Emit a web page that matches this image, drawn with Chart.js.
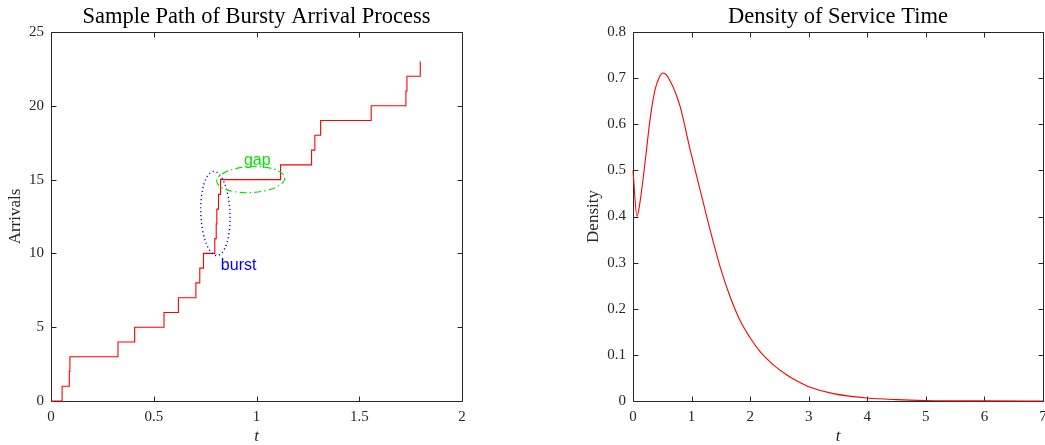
<!DOCTYPE html>
<html>
<head>
<meta charset="utf-8">
<title>Bursty Arrival Process</title>
<script src="https://cdn.jsdelivr.net/npm/chart.js@4.4.1/dist/chart.umd.min.js"></script>
<style>
body { margin: 0; background: #fff; }
canvas { position: absolute; top: 0; }
#arrivalChart { left: 0; }
#densityChart { left: 570px; }
</style>
</head>
<body>
<canvas id="arrivalChart" width="505" height="445"></canvas>
<canvas id="densityChart" width="475" height="445"></canvas>
<script>
'use strict';

// arrival instants and the cumulative count reached at each of them
const arrivalTimes = [
    0, 0.054, 0.089, 0.092, 0.326, 0.407, 0.550, 0.620, 0.705, 0.724,
    0.742, 0.797, 0.804, 0.807, 0.815, 0.825, 1.117, 1.268, 1.284, 1.312,
    1.558, 1.727, 1.732, 1.797,
];
const arrivalCounts = [
    0, 1, 2, 3, 4, 5, 6, 7, 8, 9,
    10, 11, 12, 13, 14, 15, 16, 17, 18, 19,
    20, 21, 22, 23,
];

// service time density
const serviceTimes = [
    0, 0.068, 0.125, 0.21, 0.296, 0.381, 0.45, 0.512, 0.57, 0.637,
    0.72, 0.808, 0.973, 1.143, 1.314, 1.485, 1.655, 1.826, 2.0, 2.17,
    2.39, 2.62, 2.85, 3.0, 3.42, 4.0, 4.5, 5.0, 6.0, 7.0,
];
const serviceDensity = [
    0.500, 0.400, 0.436, 0.522, 0.615, 0.677, 0.702, 0.711, 0.707, 0.693,
    0.670, 0.637, 0.546, 0.459, 0.372, 0.292, 0.227, 0.175, 0.137, 0.107,
    0.079, 0.057, 0.040, 0.031, 0.016, 0.0065, 0.003, 0.0012, 0.0002, 0,
];

// annotations on the arrival path (data units)
const burstEllipse = { t: 0.800, n: 12.7, rt: 0.071, rn: 2.85, rot: -0.04 };
const gapEllipse = { t: 0.972, n: 15.0, rt: 0.166, rn: 0.88, rot: -0.05 };
const burstLabel = { text: 'burst', t: 0.913, n: 9.2 };
const gapLabel = { text: 'gap', t: 1.004, n: 16.3 };

const INK = '#262626';
Chart.defaults.font.family = '"Liberation Serif", "Times New Roman", serif';
Chart.defaults.color = INK;

function
toPoints(xs, ys)
{
    return xs.map((x, i) => ({ x, y: ys[i] }));
}

/* box around the plot with inward ticks on every side */
const boxPlugin = {
    id: 'box',
    beforeDatasetsDraw(chart) {
        const { ctx, chartArea: a, scales: { x, y } } = chart;
        const px = v => Math.round(v) + 0.5;
        const l = px(a.left), r = px(a.right), t = px(a.top), b = px(a.bottom);
        ctx.save();
        ctx.strokeStyle = INK;
        ctx.lineWidth = 1;
        ctx.beginPath();
        ctx.rect(l, t, r - l, b - t);
        x.ticks.forEach(tk => {
            const p = px(x.getPixelForValue(tk.value));
            ctx.moveTo(p, b); ctx.lineTo(p, b - 5);
            ctx.moveTo(p, t); ctx.lineTo(p, t + 5);
        });
        y.ticks.forEach(tk => {
            const p = px(y.getPixelForValue(tk.value));
            ctx.moveTo(l, p); ctx.lineTo(l + 5, p);
            ctx.moveTo(r, p); ctx.lineTo(r - 5, p);
        });
        ctx.stroke();
        ctx.restore();
    },
};

function
drawEllipse(ctx, x, y, e, color, dash, width)
{
    const cx = x.getPixelForValue(e.t);
    const cy = y.getPixelForValue(e.n);
    const rx = Math.abs(x.getPixelForValue(e.t + e.rt) - cx);
    const ry = Math.abs(y.getPixelForValue(e.n + e.rn) - cy);
    ctx.save();
    ctx.strokeStyle = color;
    ctx.lineWidth = width;
    ctx.setLineDash(dash);
    ctx.beginPath();
    ctx.ellipse(cx, cy, rx, ry, e.rot, 0, Math.PI * 2);
    ctx.stroke();
    ctx.restore();
}

function
drawLabel(ctx, x, y, lab, color)
{
    ctx.save();
    ctx.fillStyle = color;
    ctx.font = '16px "Liberation Sans", Arial, sans-serif';
    ctx.textAlign = 'center';
    ctx.textBaseline = 'middle';
    ctx.fillText(lab.text, x.getPixelForValue(lab.t), y.getPixelForValue(lab.n));
    ctx.restore();
}

const notePlugin = {
    id: 'notes',
    afterDatasetsDraw(chart) {
        const { ctx, scales: { x, y } } = chart;
        drawEllipse(ctx, x, y, burstEllipse, '#0000ff', [1.2, 2.8], 1.4);
        drawEllipse(ctx, x, y, gapEllipse, '#00e600', [7, 3, 1.5, 3], 1.1);
        drawLabel(ctx, x, y, burstLabel, '#0000ff');
        drawLabel(ctx, x, y, gapLabel, '#00e600');
    },
};

// "1" rather than "1.0", as the original plot writes its ticks
const plainTick = v => String(Number(v.toFixed(3)));

function
xAxis(max, step)
{
    return {
        type: 'linear',
        min: 0,
        max,
        ticks: {
            stepSize: step, padding: 7, font: { size: 15 },
            maxRotation: 0, autoSkip: false, callback: plainTick,
        },
        grid: { display: false, drawTicks: false },
        border: { display: false },
        title: {
            display: true,
            text: 't',
            font: { size: 17, style: 'italic', lineHeight: 1 },
            padding: { top: 0, bottom: 0 },
        },
        afterFit: s => { s.height = 44; s.paddingLeft = 0; s.paddingRight = 0; },
    };
}

function
yAxis(max, step, label, width, titlePad)
{
    return {
        type: 'linear',
        min: 0,
        max,
        ticks: {
            stepSize: step, padding: 7, font: { size: 15 },
            autoSkip: false, callback: plainTick,
        },
        grid: { display: false, drawTicks: false },
        border: { display: false },
        title: {
            display: true,
            text: label,
            font: { size: 17 },
            padding: { top: titlePad, bottom: 0 },
        },
        afterFit: s => { s.width = width; s.paddingTop = 0; s.paddingBottom = 0; },
    };
}

function
makeChart(canvas, title, data, opts)
{
    return new Chart(canvas, {
        type: 'scatter',
        data: {
            datasets: [{
                data,
                showLine: true,
                borderColor: '#ff0000',
                borderWidth: 1.1,
                pointRadius: 0,
                clip: 3,
                stepped: opts.stepped || false,
                cubicInterpolationMode: opts.stepped ? 'default' : 'monotone',
            }],
        },
        options: {
            responsive: false,
            animation: false,
            layout: { padding: { top: 0, left: 0, bottom: 0, right: opts.padRight } },
            plugins: {
                legend: { display: false },
                tooltip: { enabled: false },
                title: {
                    display: true,
                    text: title,
                    fullSize: false,
                    color: '#000',
                    font: { size: 22.5, weight: 'normal' },
                    padding: { top: 4, bottom: 1 },
                },
            },
            scales: { x: opts.x, y: opts.y },
        },
        plugins: opts.plugins,
    });
}

function
main()
{
    makeChart(document.getElementById('arrivalChart'),
        'Sample Path of Bursty Arrival Process',
        toPoints(arrivalTimes, arrivalCounts), {
            stepped: 'before',
            padRight: 43,
            x: xAxis(2, 0.5),
            y: yAxis(25, 5, 'Arrivals', 51, 5),
            plugins: [boxPlugin, notePlugin],
        });
    makeChart(document.getElementById('densityChart'),
        'Density of Service Time',
        toPoints(serviceTimes, serviceDensity), {
            padRight: 2,
            x: xAxis(7, 1),
            y: yAxis(0.8, 0.1, 'Density', 63, 13),
            plugins: [boxPlugin],
        });
}

main();
</script>
</body>
</html>
